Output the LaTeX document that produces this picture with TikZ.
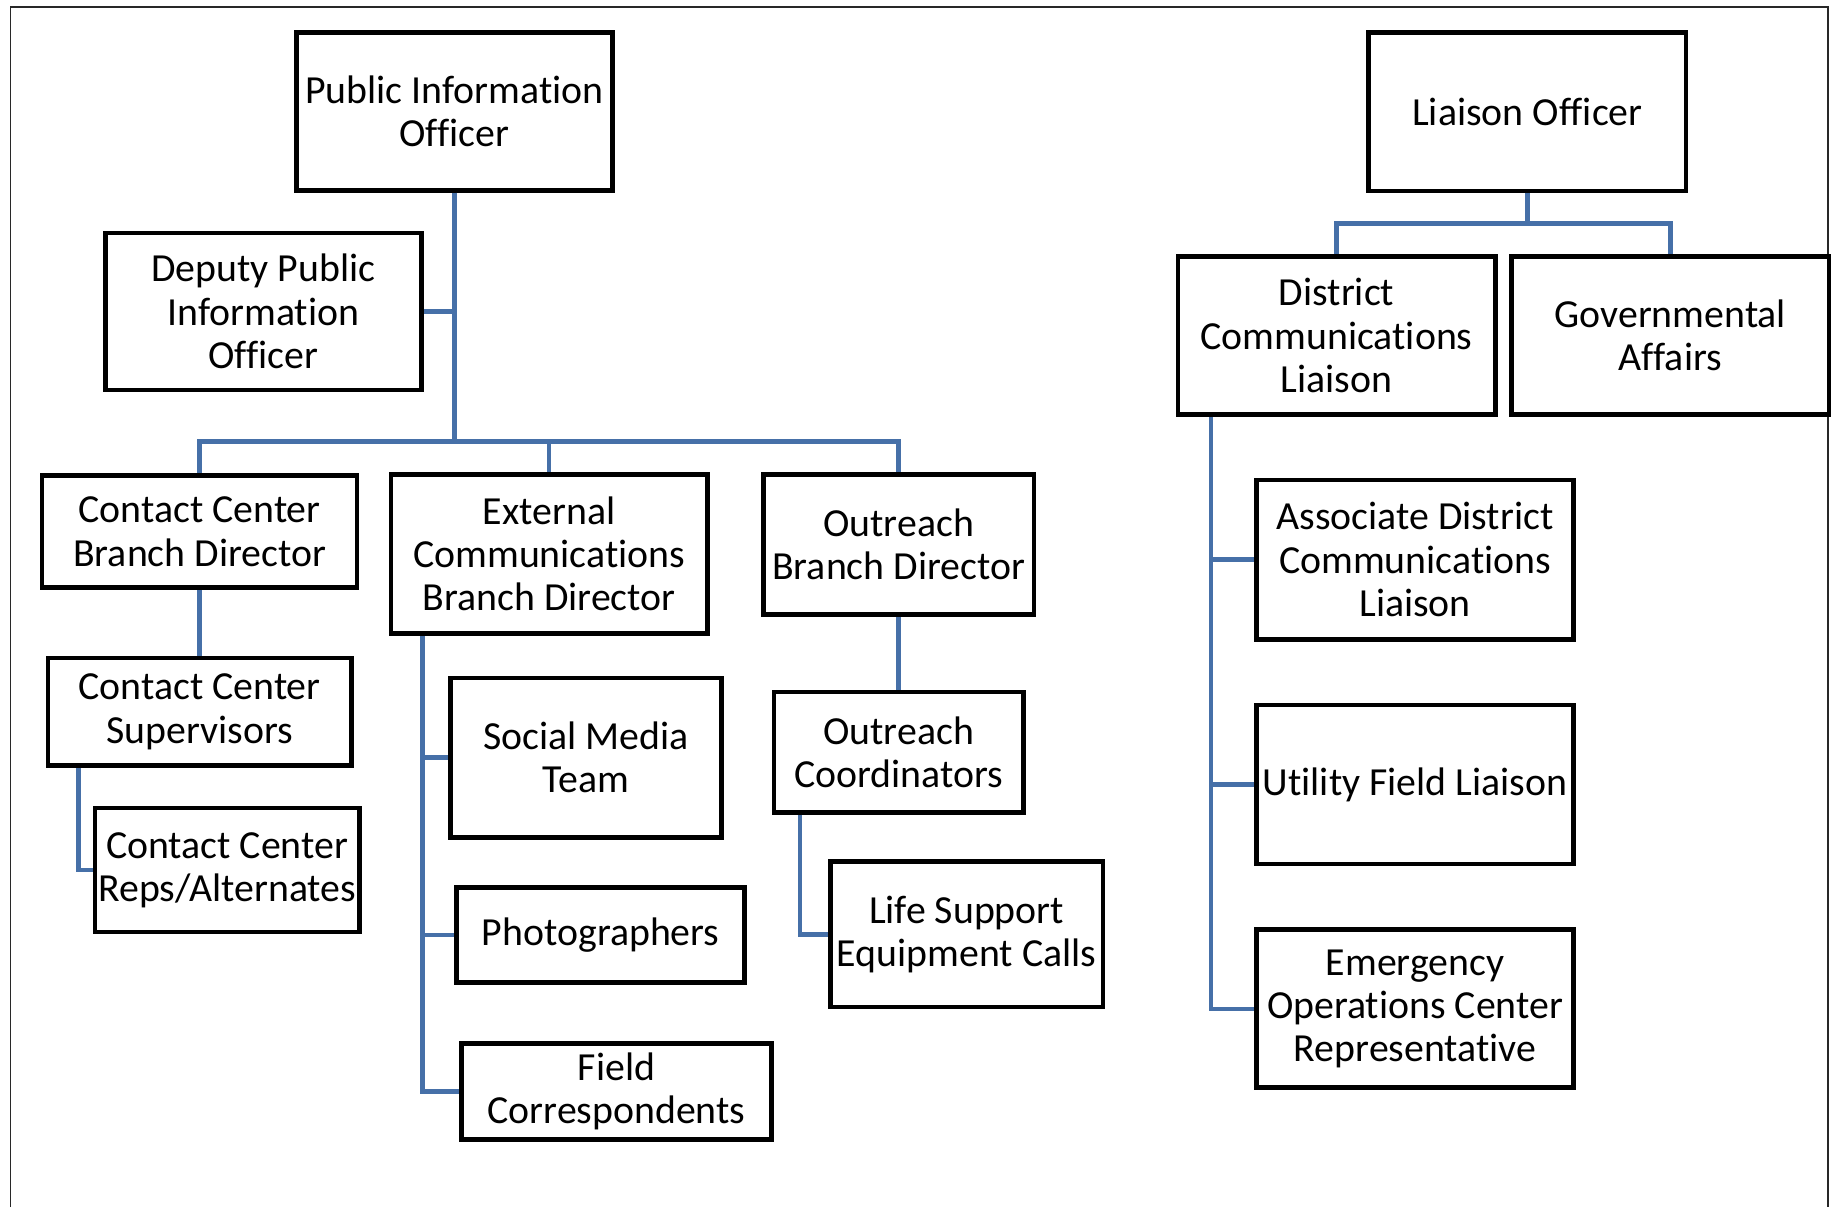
\documentclass[tikz,border=0pt]{standalone}
\usepackage{fontspec}
\setmainfont{Carlito}
\newfontfamily\boxfont[Ligatures=NoCommon,Contextuals=NoAlternate]{Carlito}
\definecolor{connblue}{RGB}{70,112,168}
\definecolor{framegray}{RGB}{40,40,40}
\begin{document}
\begin{tikzpicture}[x=1pt,y=-1pt,
  orgbox/.style={draw=black, line width=4pt, fill=white, inner sep=0pt, align=center,
    font=\boxfont\fontsize{34}{37}\selectfont},
  conn/.style={draw=connblue, line width=3.8pt},
  framestyle/.style={draw=framegray, line width=1.2pt}]
\fill[white] (0,0) rectangle (1568,1031);
\useasboundingbox (0,0) rectangle (1568,1031);
\draw[framestyle] (9,1031) -- (9,6) -- (1561,6) -- (1561,1031);

% left tree
\node[orgbox, minimum width=270, minimum height=135] (pio) at (388,95) {Public Information\\Officer};
\node[orgbox, minimum width=270, minimum height=134] (dpio) at (225,266) {Deputy Public\\Information\\Officer};
\node[orgbox, minimum width=269, minimum height=96] (ccbd) at (170.5,454) {Contact Center\\Branch Director};
\node[orgbox, minimum width=270, minimum height=136] (ecbd) at (469,473) {External\\Communications\\Branch Director};
\node[orgbox, minimum width=231, minimum height=120] (obd) at (767.5,465) {Outreach\\Branch Director};
\node[orgbox, minimum width=259, minimum height=92] (ccs) at (170.5,608) {Contact Center\\Supervisors};
\node[orgbox, minimum width=226, minimum height=106] (ccr) at (194,743) {Contact Center\\Reps/Alternates};
\node[orgbox, minimum width=231, minimum height=136] (smt) at (500.5,647) {Social Media\\Team};
\node[orgbox, minimum width=246, minimum height=81] (pho) at (513,798.5) {Photographers};
\node[orgbox, minimum width=265, minimum height=82] (fc) at (526.5,932) {Field\\Correspondents};
\node[orgbox, minimum width=213, minimum height=103] (oc) at (767.5,642.5) {Outreach\\Coordinators};
\node[orgbox, minimum width=233, minimum height=124] (lsec) at (825.5,798) {Life Support\\Equipment Calls};

% right tree
\node[orgbox, minimum width=271, minimum height=135] (lo) at (1304.5,95.5) {Liaison Officer};
\node[orgbox, minimum width=271, minimum height=135] (dcl) at (1141.5,286.5) {District\\Communications\\Liaison};
\node[orgbox, minimum width=271, minimum height=135] (ga) at (1426.5,286.5) {Governmental\\Affairs};
\node[orgbox, minimum width=271, minimum height=136] (adcl) at (1208.5,478) {Associate District\\Communications\\Liaison};
\node[orgbox, minimum width=271, minimum height=136] (ufl) at (1208.5,670) {Utility Field Liaison};
\node[orgbox, minimum width=271, minimum height=135] (eoc) at (1208.5,861.5) {Emergency\\Operations Center\\Representative};

% helper coordinates
\coordinate (pbus) at (388,377);
\coordinate (ex) at (361,0);
\coordinate (cx) at (67,0);
\coordinate (ox) at (683,0);
\coordinate (lbus) at (1304.5,191);
\coordinate (dx) at (1034,0);

\draw[conn] (pio.south) -- (pbus);
\draw[conn] (dpio.east) -- (dpio.east -| pbus);
\draw[conn] (ccbd.north) |- (obd.north |- pbus) -- (obd.north);
\draw[conn] (ecbd.north) -- (ecbd.north |- pbus);
\draw[conn] (ccbd.south) -- (ccs.north);
\draw[conn] (ccs.south -| cx) |- (ccr.west);
\draw[conn] (ecbd.south -| ex) |- (fc.west);
\draw[conn] (smt.west -| ex) -- (smt.west);
\draw[conn] (pho.west -| ex) -- (pho.west);
\draw[conn] (obd.south) -- (oc.north);
\draw[conn] (oc.south -| ox) |- (lsec.west);
\draw[conn] (lo.south) -- (lbus);
\draw[conn] (dcl.north) |- (lbus) -| (ga.north);
\draw[conn] (dcl.south -| dx) |- (eoc.west);
\draw[conn] (adcl.west -| dx) -- (adcl.west);
\draw[conn] (ufl.west -| dx) -- (ufl.west);
\end{tikzpicture}
\end{document}
